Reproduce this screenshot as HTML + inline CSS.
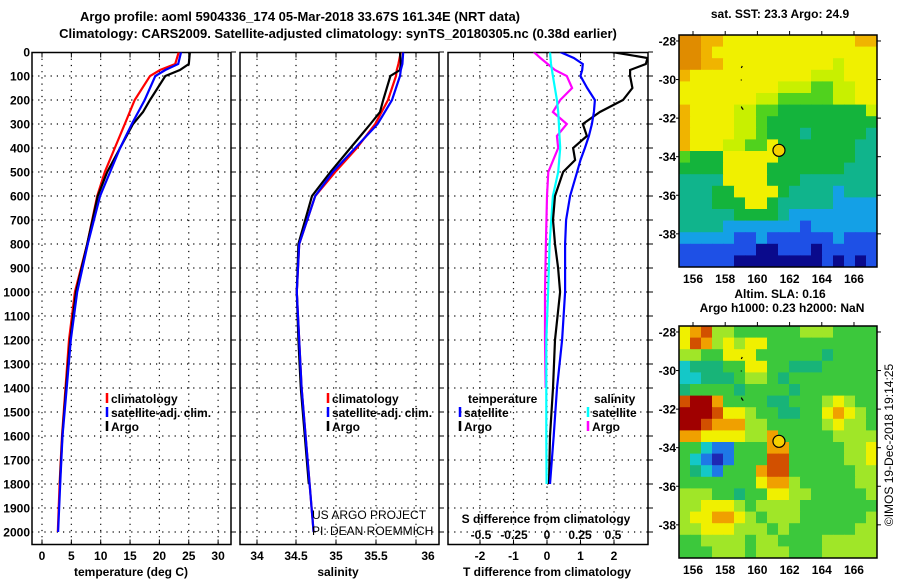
<!DOCTYPE html>
<html><head><meta charset="utf-8">
<style>
body{margin:0;background:#fff;}
svg{display:block;font-family:"Liberation Sans",Arial,sans-serif;font-weight:bold;}
</style></head>
<body>
<svg id="chart" width="900" height="580" viewBox="0 0 900 580" xmlns="http://www.w3.org/2000/svg">
<text x="300" y="21" font-size="13" text-anchor="middle">Argo profile: aoml 5904336_174 05-Mar-2018 33.67S 161.34E (NRT data)</text>
<text x="338" y="38" font-size="13" text-anchor="middle">Climatology: CARS2009. Satellite-adjusted climatology: synTS_20180305.nc (0.38d earlier)</text>
<g id="g"></g>
</svg>
<script>
// ---------- profile data ----------
const depthsClim = [0,50,75,100,200,300,400,500,600,800,1000,1200,1400,1600,1800,2000];
const tempClim   = [23.3,22.7,20.1,18.4,15.8,14.1,12.4,10.7,9.4,7.7,5.6,4.6,4.0,3.4,3.0,2.7];
const tempSat    = [23.7,23.2,21.0,19.3,17.5,15.3,13.3,11.6,9.9,7.8,6.0,4.9,4.2,3.5,3.1,2.75];
const depthsArgo = [0,50,75,100,200,250,300,400,500,600,800,1000,1200,1400,1600,1800];
const tempArgo   = [25.2,25.0,23.5,21.0,18.4,17.2,15.5,13.3,11.1,9.5,7.7,5.8,4.8,4.1,3.45,3.05];
const salClim    = [35.81,35.78,35.76,35.75,35.65,35.49,35.26,34.99,34.74,34.54,34.51,34.54,34.57,34.62,34.67,34.72];
const salSat     = [35.84,35.83,35.81,35.80,35.70,35.52,35.24,34.96,34.74,34.54,34.51,34.54,34.57,34.62,34.67,34.72];
const salArgo    = [35.80,35.81,35.80,35.68,35.59,35.55,35.43,35.18,34.93,34.70,34.53,34.51,34.53,34.56,34.61,34.66];
const depthsDiff = [0,25,50,75,100,150,200,250,300,350,400,450,500,600,700,800,900,1000,1200,1400,1600,1800];
const tDiffSat   = [0.39,0.8,1.07,1.05,1.0,1.2,1.43,1.4,1.34,1.25,1.13,1.0,0.9,0.69,0.57,0.54,0.54,0.54,0.45,0.3,0.2,0.09];
const tDiffArgo  = [1.94,3.0,2.95,2.48,2.48,2.55,2.27,1.58,1.07,1.19,0.78,0.84,0.48,0.24,0.18,0.24,0.33,0.39,0.24,0.18,0.09,0.06];
const depthsSDiff= [0,50,100,150,200,250,300,350,400,500,600,800,1000,1200,1400,1600,1800];
const sDiffSat   = [0.023,0.03,0.045,0.06,0.075,0.085,0.09,0.095,0.1,0.085,0.045,0.02,0.008,-0.005,-0.005,-0.005,-0.003];
const depthsSArgo= [0,25,75,100,150,200,250,300,350,400,500,600,800,1000,1200,1400];
const sDiffArgo  = [-0.1,-0.05,0.06,0.15,0.19,0.1,0.045,0.15,0.075,0.085,0.01,0.0,-0.008,-0.015,-0.015,-0.01];
const depthTicks = [0,100,200,300,400,500,600,700,800,900,1000,1100,1200,1300,1400,1500,1600,1700,1800,1900,2000];
const tempTicks  = [0,5,10,15,20,25,30];
const salTicks   = [34,34.5,35,35.5,36];
const tdTicks    = [-2,-1,0,1,2];
const sdTickLabels = ["-0.5","-0.25","0","0.25","0.5"];
const sdTicks    = [-0.5,-0.25,0,0.25,0.5];
// ---------- map data (one digit per cell, 18 cols x 20 rows) ----------
const sstGrid = [
"998877777777777788","998777777777777777","998877777777776777","877777777777666777",
"777777777666556677","777777766555556677","877776655444444446","877776654444444444",
"877776654443444443","877766557444444433","544477777444444433","444477774444444333",
"333377774443333333","333447777433332333","333444774333332222","333334444322222222",
"333322222221222222","222221121111112111","111111100111011111","111110000000010101"];
const slaGrid = [
"678554444445554444","687565664444444444","554466644444434444","233344664433344444",
"223334554344444444","344443444434444444","899744443344456544","999866544334467654",
"998777554444456554","776666557444445555","442114447744444556","421014448844444556",
"432144478844444455","444444467754444455","555443446655444445","556665455554444444",
"566776545554444445","556665554544444455","445555455444455555","444555455544455555"];
const sstColors = ["#0a0a8c","#1e50e6","#14a0e6","#10b48c","#14b43c","#50d21e","#c8f000","#f0f000","#f0b400","#e08c00"];
const slaColors = ["#1e28b4","#1e78e6","#14c8c8","#18b478","#3cc83c","#a0e628","#f0f000","#f0a000","#d25000","#a00000"];
const argoLon = 161.34, argoLat = -33.67;
const lonTicks = [156,158,160,162,164,166];
const latTicks = [-28,-30,-32,-34,-36,-38];

const NS="http://www.w3.org/2000/svg";
const G=document.getElementById('g');
function mk(tag,attrs,parent){const e=document.createElementNS(NS,tag);for(const k in attrs)e.setAttribute(k,attrs[k]);(parent||G).appendChild(e);return e;}
function txt(x,y,s,size,anchor,parent){const t=mk('text',{x:x,y:y,'font-size':size||12,'text-anchor':anchor||'middle'},parent);t.textContent=s;return t;}

const TOP=52.5,BOT=544.5;
const yD=d=>52+d*0.24;
const xT=t=>42+5.87*t;
const xS=s=>296+(s-34.5)*80;
const xTD=d=>547+33.5*d;
const xSD=d=>547+132*d;

function panel(x0,x1,name,xTicksPos){
  const g=mk('g',{});
  
  
  const cp=mk('clipPath',{id:'clip-'+name},g);
  mk('rect',{x:x0,y:TOP,width:x1-x0,height:BOT-TOP},cp);
  depthTicks.forEach(d=>{ if(d>0&&d<2050){const l=mk('line',{x1:x0,x2:x1,y1:yD(d),y2:yD(d),stroke:'#000','stroke-width':1.2,'stroke-dasharray':'1.2 5'},g);
    }});
  xTicksPos.forEach(x=>{const l=mk('line',{x1:x,x2:x,y1:TOP,y2:BOT,stroke:'#000','stroke-width':1.2,'stroke-dasharray':'1.2 5'},g);
    
    mk('line',{x1:x,x2:x,y1:BOT,y2:BOT-5,stroke:'#000'},g);mk('line',{x1:x,x2:x,y1:TOP,y2:TOP+5,stroke:'#000'},g);});
  depthTicks.forEach(d=>{mk('line',{x1:x1,x2:x1+5,y1:yD(d),y2:yD(d),stroke:'#000'},g);});
  const r=mk('rect',{x:x0,y:TOP,width:x1-x0,height:BOT-TOP,fill:'none',stroke:'#000','stroke-width':1.5},g);
  
  return g;
}
function line(g,xs,ds,xf,color,name,clip){
  const pts=xs.map((v,i)=>xf(v).toFixed(1)+','+yD(ds[i]).toFixed(1)).join(' ');
  const p=mk('polyline',{points:pts,fill:'none',stroke:color,'stroke-width':2.2,'clip-path':'url(#clip-'+clip+')'},g);
  
  
}
function legendEntry(g,x,y,color,label){
  if(color){mk('line',{x1:x,x2:x,y1:y-10,y2:y,stroke:color,'stroke-width':2.5},g);}
  const t=txt(x+4,y,label,12,'start',g);
  
  
}

depthTicks.forEach(d=>{const t=txt(30,yD(d)+4.5,String(d),12,'end');
  });

const p1=panel(32,231,'temperature-panel',tempTicks.map(xT));
line(p1,tempClim,depthsClim,xT,'#f00','climatology-temp-line','temperature-panel');
line(p1,tempArgo,depthsArgo,xT,'#000','argo-temp-line','temperature-panel');
line(p1,tempSat,depthsClim,xT,'#00f','satellite-temp-line','temperature-panel');
tempTicks.forEach(t=>{const e=txt(xT(t),560,String(t),12);});
let at=txt(131,576,'temperature (deg C)',12);
legendEntry(p1,107,403,'#f00','climatology');
legendEntry(p1,107,417,'#00f','satellite-adj. clim.');
legendEntry(p1,107,431,'#000','Argo');

const salGridX=[257,296,336,376,416];
const p2=panel(240,439,'salinity-panel',salGridX);
line(p2,salClim,depthsClim,xS,'#f00','climatology-sal-line','salinity-panel');
line(p2,salArgo,depthsArgo,xS,'#000','argo-sal-line','salinity-panel');
line(p2,salSat,depthsClim,xS,'#00f','satellite-sal-line','salinity-panel');
const salLabX=[257,296,336,376,428];
salTicks.forEach((s,i)=>{const e=txt(salLabX[i],560,String(s),12);});
at=txt(338,576,'salinity',12);
legendEntry(p2,328,403,'#f00','climatology');
legendEntry(p2,328,417,'#00f','satellite-adj. clim.');
legendEntry(p2,328,431,'#000','Argo');
let c1=txt(312,519,'US ARGO PROJECT',12,'start',p2);c1.setAttribute('font-weight','normal');
let c2=txt(312,535,'PI: DEAN ROEMMICH',12,'start',p2);c2.setAttribute('font-weight','normal');

const p3=panel(448,648,'difference-panel',tdTicks.map(xTD));
line(p3,sDiffArgo,depthsSArgo,xSD,'#f0f','argo-sal-diff-line','difference-panel');
line(p3,sDiffSat,depthsSDiff,xSD,'#0ff','satellite-sal-diff-line','difference-panel');
line(p3,tDiffArgo,depthsDiff,xTD,'#000','argo-temp-diff-line','difference-panel');
line(p3,tDiffSat,depthsDiff,xTD,'#00f','satellite-temp-diff-line','difference-panel');
tdTicks.forEach(t=>{const e=txt(xTD(t),560,String(t),12);});
sdTicks.forEach((s,i)=>{const e=txt(xSD(s),539,sdTickLabels[i],12,'middle',p3);});
at=txt(546,523,'S difference from climatology',12,'middle',p3);
at=txt(547,576,'T difference from climatology',12);
legendEntry(p3,464,403,null,'temperature');
legendEntry(p3,460,417,'#00f','satellite');
legendEntry(p3,460,431,'#000','Argo');
legendEntry(p3,590,403,null,'salinity');
legendEntry(p3,588,417,'#0ff','satellite');
legendEntry(p3,588,431,'#f0f','Argo');

function map(name,grid,colors,y0,title1,title2){
  const x0=679,x1=877,y1=y0+232;
  const lonL=155.13,lonR=167.43,latT=-27.69,latB=-39.72;
  const mx=lon=>x0+(lon-lonL)/(lonR-lonL)*(x1-x0);
  const my=lat=>y0+(latT-lat)/(latT-latB)*(y1-y0);
  const g=mk('g',{});
  
  
  const rows=grid.length,cols=grid[0].length;
  const cw=(lonR-lonL)/cols,ch=(latT-latB)/rows;
  grid.forEach((row,r)=>{for(let c=0;c<cols;c++){
    const v=+row[c];
    const xa=mx(lonL+c*cw),xb=mx(lonL+(c+1)*cw),ya=my(latT-r*ch),yb=my(latT-(r+1)*ch);
    const cell=mk('rect',{x:xa,y:ya,width:xb-xa+0.5,height:yb-ya+0.5,fill:colors[v]},g);
    
    
  }});
  mk('path',{d:`M${mx(159.0)} ${my(-29.4)} l1 -2 M${mx(159.0)} ${my(-30)} l0 1 M${mx(159.0)} ${my(-31.4)} l1 2 l1 1`,stroke:'#000','stroke-width':1.2,fill:'none'},g);
  const m=mk('circle',{cx:mx(argoLon),cy:my(argoLat),r:6,fill:'#f5d000',stroke:'#000','stroke-width':1.2},g);
  
  mk('rect',{x:x0,y:y0,width:x1-x0,height:y1-y0,fill:'none',stroke:'#000','stroke-width':1.5},g);
  lonTicks.forEach(l=>{mk('line',{x1:mx(l),x2:mx(l),y1:y0,y2:y0-4,stroke:'#000'},g);
    const e=txt(mx(l),y1+16,String(l),12,'middle',g);});
  latTicks.forEach(l=>{mk('line',{x1:x1,x2:x1+4,y1:my(l),y2:my(l),stroke:'#000'},g);mk('line',{x1:x0,x2:x0-3,y1:my(l),y2:my(l),stroke:'#000'},g);
    const e=txt(676,my(l)+4.5,String(l),12,'end',g);});
  let t=txt(780,title2?y0-28:y0-17,title1,12,'middle',g);
  if(title2){t=txt(782,y0-14,title2,12,'middle',g);}
}
map('sst-map',sstGrid,sstColors,35,'sat. SST: 23.3 Argo: 24.9');
map('sla-map',slaGrid,slaColors,326,'Altim. SLA: 0.16','Argo h1000: 0.23 h2000: NaN');
const cr=txt(0,0,'©IMOS 19-Dec-2018 19:14:25',12,'middle');
cr.setAttribute('transform','translate(893,445) rotate(-90)');
cr.setAttribute('font-weight','normal');


</script>
</body></html>
